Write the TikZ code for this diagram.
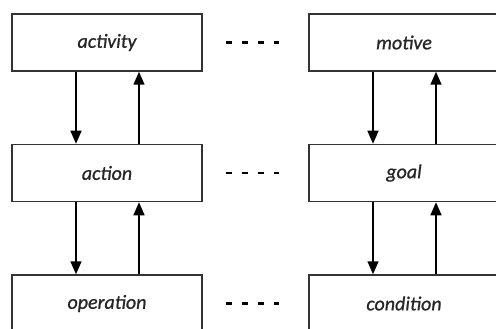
\documentclass[tikz,border=0pt]{standalone}
\usepackage{fontspec}
\setmainfont{Carlito}
\newfontfamily\labfont[FakeBold=0.8]{Carlito}
\usetikzlibrary{arrows.meta}
\begin{document}
\begin{tikzpicture}[x=1pt,y=1pt,
  box/.style={draw=black!80, line width=1.5pt, minimum width=190pt, minimum height=57pt, inner sep=0pt, font=\labfont\itshape\fontsize{20}{24}\selectfont, text=black!85},
  arr/.style={line width=1.5pt, -{Triangle[width=11pt,length=13pt]}},
  link/.style={line width=2.5pt, dash pattern=on 6pt off 10pt}]
\useasboundingbox (0,0) rectangle (496,-329);
\clip (0,0) rectangle (496,-329);
\node[box] (activity) at (107,-42.5) {activity};
\node[box] (action) at (107,-173) {action};
\node[box] (operation) at (107,-303.5) {operation};
\node[box] (motive) at (404,-42.5) {motive};
\node[box] (goal) at (404,-173) {goal};
\node[box] (condition) at (404,-303.5) {condition};
\foreach \a/\b in {activity/action, action/operation, motive/goal, goal/condition}{
  \draw[arr] ([xshift=-31pt]\a.south) -- ([xshift=-31pt]\b.north);
  \draw[arr] ([xshift=32pt]\b.north) -- ([xshift=32pt]\a.south);
}
\foreach \a/\b in {activity/motive, action/goal, operation/condition}{
  \draw[link] ([xshift=23pt]\a.east) -- ([xshift=-29pt]\b.west);
}
\end{tikzpicture}
\end{document}
